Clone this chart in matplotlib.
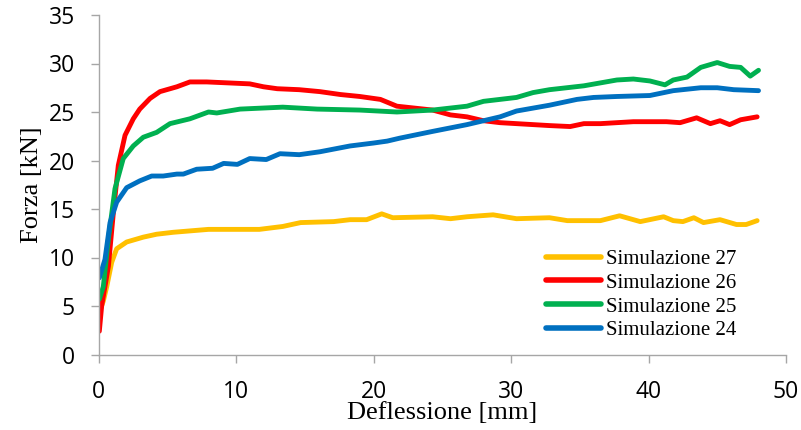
import matplotlib
matplotlib.use("Agg")
import matplotlib.pyplot as plt

# Deflection [mm] and force [kN] for each simulation
x27 = [0.1, 0.35, 0.6, 0.96, 1.32, 2.05, 3.26, 4.23, 5.44, 8.0, 9.8, 11.7, 13.4, 14.7, 17.1,
       18.3, 19.5, 20.6, 21.4, 24.3, 25.6, 26.8, 28.7, 30.4, 32.8, 34.1, 36.5, 37.9, 39.4,
       41.1, 41.8, 42.5, 43.3, 44.0, 45.2, 46.4, 47.1, 47.9]
y27 = [4.5, 5.5, 7.0, 9.5, 10.9, 11.6, 12.1, 12.4, 12.6, 12.9, 12.9, 12.9, 13.2, 13.6, 13.7,
       13.9, 13.9, 14.5, 14.1, 14.2, 14.0, 14.2, 14.4, 14.0, 14.1, 13.8, 13.8, 14.3, 13.7,
       14.2, 13.8, 13.7, 14.1, 13.6, 13.9, 13.4, 13.4, 13.8]

x26 = [0.06, 0.23, 0.72, 1.08, 1.44, 1.93, 2.53, 3.0, 3.75, 4.47, 5.7, 6.65, 7.87, 11.0, 12.0,
       13.0, 14.6, 16.1, 17.6, 19.0, 20.5, 21.7, 24.3, 25.6, 26.8, 28.0, 29.2, 30.4, 31.6,
       32.8, 34.3, 35.3, 36.5, 38.9, 41.3, 42.3, 43.5, 44.5, 45.2, 45.9, 46.7, 47.9]
y26 = [2.4, 5.0, 9.1, 14.6, 19.5, 22.6, 24.3, 25.3, 26.4, 27.1, 27.6, 28.1, 28.1, 27.9, 27.6,
       27.4, 27.3, 27.1, 26.8, 26.6, 26.3, 25.6, 25.2, 24.7, 24.5, 24.1, 23.9, 23.8, 23.7,
       23.6, 23.5, 23.8, 23.8, 24.0, 24.0, 23.9, 24.4, 23.8, 24.1, 23.7, 24.2, 24.5]

x25 = [0.06, 0.35, 0.72, 1.2, 1.8, 2.53, 3.26, 4.23, 5.2, 6.65, 8.0, 8.6, 10.3, 13.4, 15.9,
       19.0, 21.7, 24.3, 26.8, 28.0, 30.4, 31.6, 32.8, 35.3, 37.7, 38.9, 40.1, 41.2, 41.8,
       42.8, 43.8, 45.0, 45.9, 46.7, 47.4, 48.0]
y25 = [5.7, 7.0, 11.9, 17.1, 20.2, 21.5, 22.4, 22.9, 23.8, 24.3, 25.0, 24.9, 25.3, 25.5, 25.3,
       25.2, 25.0, 25.2, 25.6, 26.1, 26.5, 27.0, 27.3, 27.7, 28.3, 28.4, 28.2, 27.8, 28.3,
       28.6, 29.6, 30.1, 29.7, 29.6, 28.7, 29.3]

x24 = [0.06, 0.47, 0.84, 1.32, 2.05, 3.0, 3.87, 4.71, 5.7, 6.17, 7.14, 8.3, 9.1, 10.1, 11.0,
       12.2, 13.2, 14.6, 16.1, 18.3, 20.0, 21.0, 21.9, 24.3, 26.8, 29.2, 30.4, 31.6, 32.8,
       34.8, 36.0, 37.7, 40.1, 41.8, 43.8, 45.0, 46.2, 48.0]
y24 = [7.9, 9.8, 13.6, 15.7, 17.2, 17.9, 18.4, 18.4, 18.6, 18.6, 19.1, 19.2, 19.7, 19.6, 20.2,
       20.1, 20.7, 20.6, 20.9, 21.5, 21.8, 22.0, 22.3, 23.0, 23.7, 24.5, 25.1, 25.4, 25.7,
       26.3, 26.5, 26.6, 26.7, 27.2, 27.5, 27.5, 27.3, 27.2]

series = [
    ("Simulazione 27", x27, y27, "#FFC000"),
    ("Simulazione 26", x26, y26, "#FF0000"),
    ("Simulazione 25", x25, y25, "#00B050"),
    ("Simulazione 24", x24, y24, "#0070C0"),
]

xticks = [0, 10, 20, 30, 40, 50]
yticks = [0, 5, 10, 15, 20, 25, 30, 35]

W, H = 801, 430
fig = plt.figure(figsize=(W / 100, H / 100), dpi=100)
ax = fig.add_axes([98.5 / W, 1 - 354.5 / H, (786 - 98.5) / W, (354.5 - 15) / H])

for label, xs, ys, color in series:
    ax.plot(xs, ys, color=color, lw=3.5, label=label, solid_capstyle="round",
            solid_joinstyle="round")

ax.set_xlim(0, 50)
ax.set_ylim(0, 35)
ax.set_xticks(xticks)
ax.set_yticks(yticks)

for side in ("top", "right"):
    ax.spines[side].set_visible(False)
for side in ("left", "bottom"):
    ax.spines[side].set_color("#a6a6a6")
    ax.spines[side].set_linewidth(1.0)

ax.tick_params(axis="both", direction="out", length=6, width=1.0, color="#a6a6a6",
               labelsize=16.5, labelcolor="black")
ax.tick_params(axis="x", pad=12)
ax.tick_params(axis="y", pad=11)
for lab in ax.get_xticklabels() + ax.get_yticklabels():
    lab.set_fontfamily("Open Sans")

serif = ["Liberation Serif", "DejaVu Serif"]
ax.set_xlabel("Deflessione [mm]", fontsize=19, family=serif, labelpad=-1)
ax.set_ylabel("Forza [kN]", fontsize=19, family=serif, labelpad=4)

leg = ax.legend(loc="upper left", bbox_to_anchor=(536 / W, 1 - 239 / H),
                bbox_transform=fig.transFigure, frameon=False, borderpad=0,
                handlelength=2.6, handletextpad=0.25, labelspacing=0.2,
                prop={"family": serif, "size": 15})
for line in leg.get_lines():
    line.set_linewidth(4)

fig.savefig("out.png", dpi=100)
